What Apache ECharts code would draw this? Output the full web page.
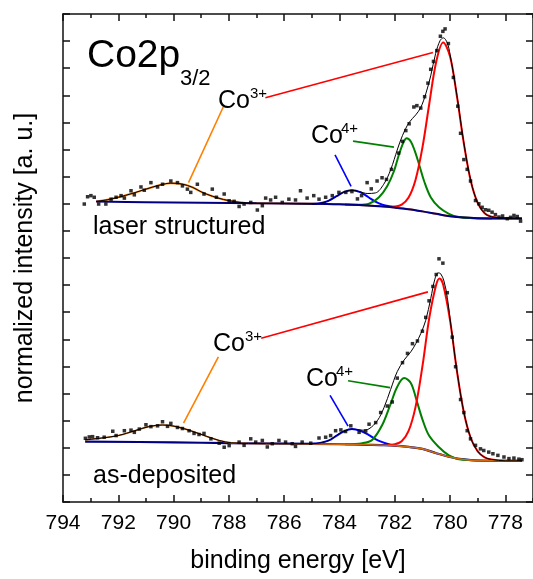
<!DOCTYPE html>
<html>
<head>
<meta charset="utf-8">
<script src="https://cdn.jsdelivr.net/npm/echarts@6/dist/echarts.min.js"></script>
<style>html,body{margin:0;padding:0;background:#fff}#c{width:533px;height:579px}</style>
</head>
<body>
<div id="c"></div>
<script>
// ---------- axis ticks ----------
const majorTicks = [778, 780, 782, 784, 786, 788, 790, 792, 794];
const minorTicks = [777, 779, 781, 783, 785, 787, 789, 791, 793];

// ---------- laser structured (upper, offset) ----------
const topBackground = [[792.8,11.08],[791,11.06],[789,11.04],[787,11.02],[785,11.0],[784,10.98],[783,10.94],[782.5,10.91],[782,10.86],[781.5,10.80],[781,10.72],[780.5,10.63],[780,10.54],[779.5,10.49],[779,10.47],[778,10.46],[777.4,10.46]];
const topCo3Sat = [[792.8,11.08],[792.4,11.15],[792.0,11.24],[791.5,11.38],[791.0,11.54],[790.5,11.69],[790.1,11.76],[789.7,11.73],[789.3,11.60],[789.0,11.44],[788.6,11.28],[788.2,11.16],[787.8,11.08],[787.4,11.03],[787.0,11.02],[786.0,11.01],[784,10.98],[783,10.94],[782,10.86],[781,10.72],[780,10.54],[779,10.47],[777.4,10.46]];
const topCo4Sat = [[785.0,10.99],[784.7,11.02],[784.4,11.11],[784.1,11.28],[783.85,11.43],[783.55,11.50],[783.25,11.43],[782.95,11.24],[782.7,11.08],[782.45,10.97],[782.15,10.90],[781.9,10.86]];
const topCo4 = [[783.8,10.97],[783.3,10.96],[782.93,11.0],[782.57,11.24],[782.27,11.66],[782.03,12.2],[781.85,12.81],[781.67,13.30],[781.57,13.42],[781.42,13.30],[781.27,12.93],[781.12,12.45],[780.94,11.84],[780.70,11.24],[780.40,10.87],[780.04,10.63],[779.68,10.51],[779.2,10.47],[778.5,10.46]];
const topCo3 = [[782.2,10.89],[782.0,10.90],[781.75,10.97],[781.5,11.23],[781.25,11.88],[781.0,13.07],[780.75,14.70],[780.5,16.24],[780.25,16.95],[780.0,16.43],[779.75,14.95],[779.5,13.22],[779.25,11.84],[779.0,11.03],[778.75,10.65],[778.5,10.52],[778.25,10.48],[778.0,10.47],[777.4,10.46]];
const topEnvelope = [[792.8,11.08],[792.4,11.15],[792.0,11.24],[791.5,11.38],[791.0,11.54],[790.5,11.69],[790.1,11.76],[789.7,11.73],[789.3,11.60],[789.0,11.44],[788.6,11.28],[788.2,11.16],[787.8,11.08],[787.4,11.03],[787.0,11.02],[786.0,11.01],[785.0,10.99],[784.7,11.02],[784.4,11.11],[784.1,11.28],[783.85,11.43],[783.55,11.50],[783.25,11.44],[783.0,11.38],[782.7,11.40],[782.4,11.72],[782.15,12.25],[781.9,13.02],[781.72,13.52],[781.48,14.0],[781.24,14.28],[781.06,14.55],[780.88,15.05],[780.70,15.72],[780.52,16.55],[780.36,17.02],[780.24,17.12],[780.10,16.93],[780.0,16.51],[779.75,14.99],[779.5,13.24],[779.25,11.85],[779.0,11.03],[778.75,10.65],[778.5,10.52],[778.0,10.47],[777.4,10.46]];
const topMeasured = [[793.23,10.99],[793.11,11.26],[792.99,11.30],[792.87,11.24],[792.71,10.99],[792.45,10.99],[792.26,11.17],[792.08,11.24],[791.90,11.30],[791.78,11.21],[791.54,11.48],[791.42,11.33],[791.18,11.62],[791.06,11.50],[790.82,11.78],[790.58,11.62],[790.40,11.72],[790.10,11.84],[789.86,11.78],[789.68,11.66],[789.50,11.54],[789.38,11.42],[789.14,11.72],[788.90,11.36],[788.60,11.54],[788.45,11.24],[788.17,11.36],[787.99,11.11],[787.81,11.09],[787.63,10.90],[787.45,10.99],[787.21,11.05],[786.97,10.77],[786.79,10.93],[786.67,11.21],[786.49,11.14],[786.31,11.24],[786.07,11.05],[785.83,11.17],[785.59,11.14],[785.41,11.48],[785.17,11.21],[784.93,11.30],[784.74,11.17],[784.50,11.24],[784.26,11.30],[784.02,11.42],[783.77,11.42],[783.55,11.45],[783.35,11.18],[783.20,11.30],[783.0,11.78],[782.85,11.55],[782.64,11.84],[782.46,11.96],[782.30,11.90],[782.12,12.27],[781.86,12.87],[781.72,13.30],[781.60,13.70],[781.48,13.95],[781.31,14.57],[781.20,14.62],[781.06,14.53],[780.92,14.95],[780.80,15.45],[780.70,15.96],[780.60,16.25],[780.48,16.65],[780.35,17.18],[780.26,17.36],[780.18,17.45],[780.06,16.91],[779.88,15.66],[779.72,14.60],[779.62,13.60],[779.50,12.63],[779.38,12.27],[779.26,11.84],[779.08,11.12],[778.96,11.00],[778.84,10.87],[778.72,10.78],[778.60,10.76],[778.48,10.69],[778.36,10.60],[778.23,10.51],[778.10,10.55],[777.93,10.45],[777.81,10.50],[777.69,10.57],[777.57,10.53],[777.45,10.36]];

// ---------- as-deposited (lower) ----------
const botBackground = [[793.2,2.23],[790,2.20],[788,2.17],[786,2.15],[784,2.13],[783,2.11],[782.5,2.10],[782.0,2.08],[781.5,2.03],[781.0,1.96],[780.5,1.80],[780.0,1.66],[779.5,1.57],[779.0,1.53],[778.0,1.52],[777.4,1.52]];
const botCo3Sat = [[793.2,2.29],[792.6,2.36],[792.0,2.45],[791.4,2.63],[790.9,2.78],[790.4,2.84],[789.9,2.78],[789.3,2.60],[788.8,2.42],[788.35,2.27],[787.9,2.18],[787.3,2.16],[786.0,2.15],[784,2.13],[783,2.11],[782,2.08],[781,1.96],[780.5,1.80],[780,1.66],[779.5,1.57],[779,1.53],[778,1.52],[777.4,1.52]];
const botCo4Sat = [[785.0,2.15],[784.7,2.18],[784.38,2.27],[784.1,2.45],[783.85,2.60],[783.55,2.69],[783.25,2.63],[782.95,2.48],[782.7,2.32],[782.45,2.21],[782.15,2.11],[781.9,2.07]];
const botCo4 = [[783.8,2.13],[783.17,2.17],[782.81,2.30],[782.45,2.85],[782.15,3.62],[781.91,4.25],[781.66,4.57],[781.42,4.39],[781.22,3.78],[781.0,3.05],[780.76,2.45],[780.4,2.02],[780.04,1.72],[779.68,1.58],[779.2,1.54],[778.5,1.52]];
const botCo3 = [[782.25,2.10],[782.0,2.13],[781.75,2.24],[781.5,2.62],[781.25,3.50],[781.0,5.0],[780.75,6.80],[780.5,8.02],[780.375,8.24],[780.25,8.02],[780.0,6.70],[779.75,4.82],[779.5,3.30],[779.25,2.35],[779.0,1.87],[778.75,1.65],[778.5,1.57],[778.0,1.52],[777.4,1.52]];
const botEnvelope = [[793.2,2.29],[792.6,2.36],[792.0,2.45],[791.4,2.63],[790.9,2.78],[790.4,2.84],[789.9,2.78],[789.3,2.60],[788.8,2.42],[788.35,2.27],[787.9,2.18],[787.3,2.16],[786.0,2.15],[785.0,2.15],[784.7,2.18],[784.38,2.27],[784.1,2.46],[783.85,2.61],[783.53,2.69],[783.17,2.65],[782.93,2.70],[782.63,3.00],[782.39,3.48],[782.15,4.15],[781.91,4.81],[781.66,5.24],[781.42,5.54],[781.24,5.84],[781.06,6.21],[780.88,6.70],[780.70,7.50],[780.55,8.22],[780.43,8.45],[780.34,8.42],[780.22,8.15],[780.10,7.55],[780.0,6.76],[779.75,4.84],[779.5,3.31],[779.25,2.36],[779.0,1.87],[778.75,1.65],[778.5,1.57],[778.0,1.52],[777.4,1.52]];
const botMeasured = [[793.19,2.35],[793.05,2.40],[792.93,2.41],[792.75,2.37],[792.51,2.39],[792.20,2.61],[792.08,2.45],[791.78,2.63],[791.54,2.65],[791.42,2.57],[791.24,2.69],[791.00,2.85],[790.82,2.78],[790.58,2.81],[790.40,2.96],[790.22,2.79],[790.10,2.90],[789.86,2.75],[789.68,2.71],[789.44,2.63],[789.26,2.53],[789.08,2.49],[788.90,2.53],[788.65,2.33],[788.35,2.17],[788.17,2.02],[787.99,2.08],[787.63,2.21],[787.45,2.09],[787.21,2.33],[787.03,2.21],[786.79,2.27],[786.61,2.03],[786.43,2.15],[786.19,2.27],[785.95,2.21],[785.71,2.15],[785.59,2.05],[785.35,2.21],[785.04,2.17],[784.74,2.36],[784.50,2.39],[784.32,2.45],[784.14,2.63],[783.95,2.66],[783.78,2.60],[783.59,2.81],[783.29,2.57],[783.05,2.62],[782.93,2.87],[782.69,2.93],[782.51,3.30],[782.27,3.54],[782.09,3.69],[781.91,4.57],[781.72,5.14],[781.54,5.48],[781.36,5.84],[781.18,5.94],[781.00,6.30],[780.88,6.81],[780.76,7.42],[780.62,7.95],[780.50,8.39],[780.40,8.97],[780.26,8.81],[780.10,7.72],[779.92,6.08],[779.80,4.99],[779.62,3.78],[779.50,3.30],[779.38,2.63],[779.26,2.33],[779.08,2.09],[778.90,1.96],[778.78,1.90],[778.60,1.84],[778.45,1.78],[778.27,1.72],[778.05,1.66],[777.87,1.60],[777.69,1.62],[777.51,1.58],[777.40,1.56]];

// ---------- annotation leader lines (data coords) ----------
const leadTopCo3Sat = [[788.20,14.58],[789.46,11.78]];
const leadTopCo3 = [[786.68,14.91],[780.62,16.58]];
const leadTopCo4Sat = [[784.16,12.80],[783.58,11.64]];
const leadTopCo4 = [[783.51,13.31],[782.03,13.09]];
const leadBotCo3Sat = [[788.38,5.35],[789.64,2.91]];
const leadBotCo3 = [[786.83,6.04],[780.80,7.75]];
const leadBotCo4Sat = [[784.34,3.93],[783.69,2.80]];
const leadBotCo4 = [[783.69,4.47],[782.17,4.22]];

const FONT = '"Liberation Sans", Arial, Helvetica, sans-serif';
const C = {red:'#ff0000', green:'#008000', blue:'#0000ff', orange:'#ff8000', navy:'#000080', black:'#000000'};

function curve(name, data, color, width, z) {
  return {name, type:'line', data, smooth:0.35, showSymbol:false, symbol:'none', silent:true,
    lineStyle:{color, width}, z, animation:false};
}
function dots(name, data) {
  return {name, type:'scatter', data, symbol:'rect', symbolSize:3.5, itemStyle:{color:'#000'}, z:20, silent:true, animation:false};
}
function lead(data, color) {
  return {type:'line', data, showSymbol:false, symbol:'none', silent:true, lineStyle:{color, width:1.6}, z:15, animation:false};
}

const xCommon = {type:'value', min:777, max:794, inverse:true, splitLine:{show:false}};
const lineStyleAxis = {color:'#111', width:1.5};

const chart = echarts.init(document.getElementById('c'), null, {renderer:'canvas'});
chart.setOption({
  animation:false,
  backgroundColor:'#fff',
  grid:{left:63, top:14, width:471, height:495, containLabel:false},
  xAxis:[
    Object.assign({}, xCommon, {position:'bottom', interval:1,
      axisLine:{show:true, lineStyle:lineStyleAxis},
      axisTick:{show:true, inside:true, length:7, lineStyle:lineStyleAxis, customValues:majorTicks},
      axisLabel:{show:true, margin:11, fontSize:21, color:'#000', fontFamily:FONT, customValues:majorTicks},
      name:'binding energy [eV]', nameLocation:'middle', nameGap:47,
      nameTextStyle:{fontSize:25, color:'#000', fontFamily:FONT}}),
    Object.assign({}, xCommon, {position:'bottom', interval:1,
      axisLine:{show:false},
      axisTick:{show:true, inside:true, length:4, lineStyle:lineStyleAxis, customValues:minorTicks},
      axisLabel:{show:false}}),
    Object.assign({}, xCommon, {position:'top', interval:1,
      axisLine:{show:true, lineStyle:lineStyleAxis},
      axisTick:{show:true, inside:true, length:7, lineStyle:lineStyleAxis, customValues:majorTicks},
      axisLabel:{show:false}}),
    Object.assign({}, xCommon, {position:'top', interval:1,
      axisLine:{show:false},
      axisTick:{show:true, inside:true, length:4, lineStyle:lineStyleAxis, customValues:minorTicks},
      axisLabel:{show:false}})
  ],
  yAxis:[
    {type:'value', min:0, max:18, interval:1, position:'left', splitLine:{show:false},
      axisLine:{show:true, lineStyle:lineStyleAxis},
      axisTick:{show:true, inside:true, length:7, lineStyle:lineStyleAxis},
      axisLabel:{show:false},
      name:'normalized intensity [a. u.]', nameLocation:'middle', nameGap:25, nameRotate:90,
      nameTextStyle:{fontSize:25, color:'#000', fontFamily:FONT}},
    {type:'value', min:0, max:18, interval:1, position:'right', splitLine:{show:false},
      axisLine:{show:true, lineStyle:lineStyleAxis},
      axisTick:{show:true, inside:true, length:7, lineStyle:lineStyleAxis},
      axisLabel:{show:false}}
  ],
  series:[
    // upper spectrum
    curve('top Co3+ sat', topCo3Sat, C.orange, 2, 3),
    curve('top Co4+ sat', topCo4Sat, C.blue, 2, 4),
    curve('top Co4+', topCo4, C.green, 2, 4),
    curve('top Co3+', topCo3, C.red, 2, 5),
    curve('top background', topBackground, C.navy, 2, 6),
    curve('top envelope', topEnvelope, C.black, 1, 7),
    dots('top measured', topMeasured),
    // lower spectrum
    curve('bottom background', botBackground, C.navy, 2.2, 3),
    curve('bottom Co4+ sat', botCo4Sat, C.blue, 2, 4),
    curve('bottom Co4+', botCo4, C.green, 2, 4),
    curve('bottom Co3+', botCo3, C.red, 2, 5),
    curve('bottom Co3+ sat', botCo3Sat, '#d06a10', 1.6, 6),
    curve('bottom envelope', botEnvelope, C.black, 1, 7),
    dots('bottom measured', botMeasured),
    // leader lines
    lead(leadTopCo3Sat, C.orange), lead(leadTopCo3, C.red),
    lead(leadTopCo4Sat, C.blue), lead(leadTopCo4, C.green),
    lead(leadBotCo3Sat, C.orange), lead(leadBotCo3, C.red),
    lead(leadBotCo4Sat, C.blue), lead(leadBotCo4, C.green)
  ],
  graphic:[
    {type:'text', left:87, top:37, style:{text:'Co2p', font:'39px '+FONT, fill:'#000'}},
    {type:'text', left:180, top:68, style:{text:'3/2', font:'22px '+FONT, fill:'#000'}},
    {type:'text', left:218, top:89, style:{text:'Co', font:'25px '+FONT, fill:'#000'}},
    {type:'text', left:250, top:86, style:{text:'3+', font:'15px '+FONT, fill:'#000'}},
    {type:'text', left:311, top:124, style:{text:'Co', font:'25px '+FONT, fill:'#000'}},
    {type:'text', left:341, top:121, style:{text:'4+', font:'15px '+FONT, fill:'#000'}},
    {type:'text', left:213, top:332, style:{text:'Co', font:'25px '+FONT, fill:'#000'}},
    {type:'text', left:245, top:329, style:{text:'3+', font:'15px '+FONT, fill:'#000'}},
    {type:'text', left:306, top:367, style:{text:'Co', font:'25px '+FONT, fill:'#000'}},
    {type:'text', left:336, top:364, style:{text:'4+', font:'15px '+FONT, fill:'#000'}},
    {type:'text', left:93, top:215, style:{text:'laser structured', font:'25px '+FONT, fill:'#000'}},
    {type:'text', left:93, top:464, style:{text:'as-deposited', font:'25px '+FONT, fill:'#000'}}
  ]
});
</script>
</body>
</html>
